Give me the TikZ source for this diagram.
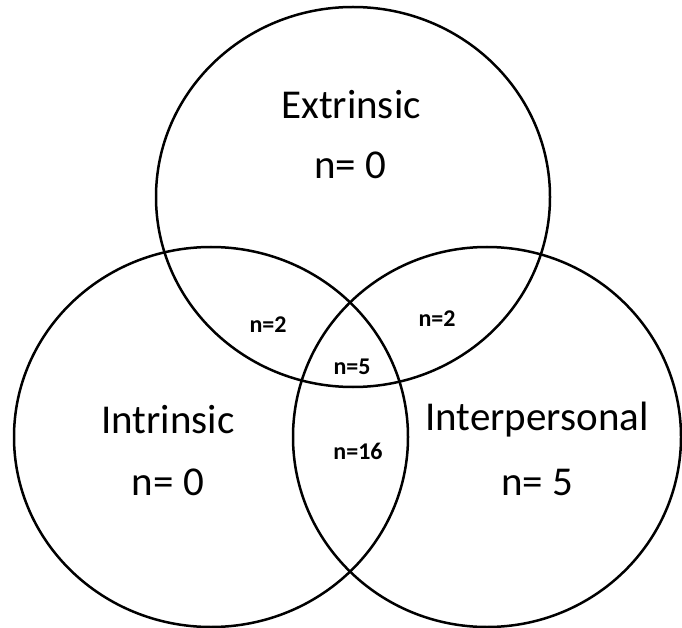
\documentclass[tikz,border=0pt]{standalone}
\usepackage{fontspec}
\setmainfont{Carlito}
\begin{document}
\begin{tikzpicture}[x=1pt,y=-1pt,
  ring/.style={draw=black,line width=2.5pt},
  big/.style={font=\fontsize{41}{43}\selectfont},
  small/.style={font=\fontsize{24}{26}\selectfont\bfseries}]
\useasboundingbox (0,0) rectangle (682,628);
\draw[ring] (353,197) ellipse [x radius=197, y radius=190];
\draw[ring] (211,437) ellipse [x radius=197, y radius=190];
\draw[ring] (487,437) ellipse [x radius=194, y radius=190];
\node[big] (ext) at (351,105) {Extrinsic};
\node[big] (extn) at (350,165) {n= 0};
\node[big] (intr) at (168,420) {Intrinsic};
\node[big] (intrn) at (168,482) {n= 0};
\node[big] (inter) at (537,420) {Interpersonal};
\node[big] (intern) at (537,482) {n= 5};
\node[small] (a) at (268,325) {n=2};
\node[small] (b) at (437,319) {n=2};
\node[small] (c) at (352,367) {n=5};
\node[small] (d) at (358,451) {n=16};
\end{tikzpicture}
\end{document}
